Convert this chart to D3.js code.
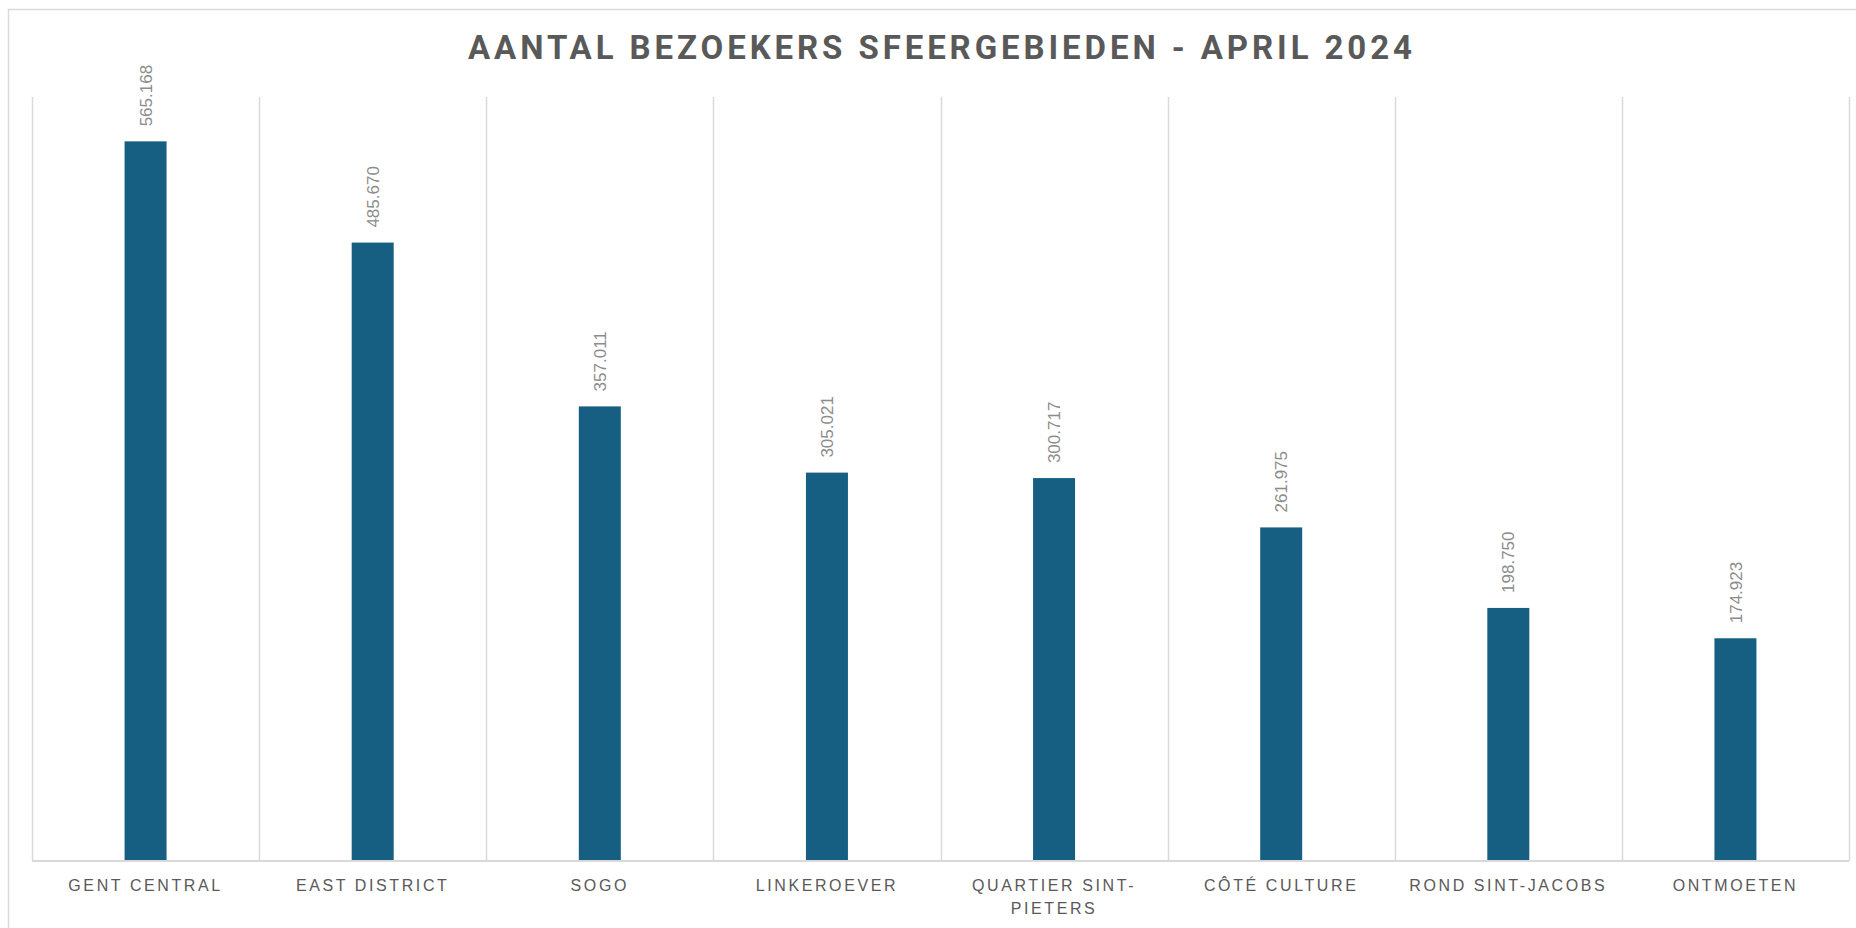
<!DOCTYPE html>
<html>
<head>
<meta charset="utf-8">
<script src="https://cdn.jsdelivr.net/npm/d3@7"></script>
<style>
  html, body { margin: 0; padding: 0; background: #fff; }
  svg { display: block; }
</style>
</head>
<body>
<div id="chart"></div>
<script>
// bezoekers per sfeergebied, april 2024
var categories = ["GENT CENTRAL", "EAST DISTRICT", "SOGO", "LINKEROEVER",
                  "QUARTIER SINT-PIETERS", "CÔTÉ CULTURE", "ROND SINT-JACOBS", "ONTMOETEN"];
var visitors = [565168, 485670, 357011, 305021, 300717, 261975, 198750, 174923];
var yMax = 600000;
var title = "AANTAL BEZOEKERS SFEERGEBIEDEN - APRIL 2024";

var W = 1856, H = 928;
var margin = {top: 97, right: 7, bottom: 67, left: 32},
    width = W - margin.left - margin.right,
    height = H - margin.top - margin.bottom;

var svg = d3.select("#chart")
  .append("svg")
    .attr("width", W)
    .attr("height", H);

// outer chart frame
svg.append("rect")
  .attr("x", 8.5).attr("y", 9.5)
  .attr("width", W).attr("height", H)
  .attr("fill", "none")
  .attr("stroke", "#d9d9d9")
  .attr("stroke-width", 1.5);

svg.append("text")
  .attr("x", 940)
  .attr("y", 59)
  .attr("text-anchor", "middle")
  .attr("textLength", 944)
  .attr("lengthAdjust", "spacing")
  .style("font-family", "Roboto, 'Liberation Sans', sans-serif")
  .style("font-weight", "700")
  .style("font-size", "33px")
  .style("fill", "#595959")
  .text(title);

var g = svg.append("g")
  .attr("transform", "translate(" + margin.left + "," + margin.top + ")");

var x = d3.scaleBand()
  .domain(categories)
  .range([0, width]);

var y = d3.scaleLinear()
  .domain([0, yMax])
  .range([height, 0]);

// vertical separators between categories
var seps = d3.range(categories.length + 1).map(function(i) { return i * x.step(); });
g.selectAll(".sep")
  .data(seps)
  .enter()
  .append("line")
    .attr("class", "sep")
    .attr("x1", function(d) { return Math.round(d) + 0.5; })
    .attr("x2", function(d) { return Math.round(d) + 0.5; })
    .attr("y1", 0)
    .attr("y2", height)
    .attr("stroke", "#d9d9d9")
    .attr("stroke-width", 1.5);

var barW = 42;
g.selectAll(".bar")
  .data(categories)
  .enter()
  .append("rect")
    .attr("class", "bar")
    .attr("x", function(d) { return x(d) + x.bandwidth() / 2 - barW / 2; })
    .attr("y", function(d, i) { return y(visitors[i]); })
    .attr("width", barW)
    .attr("height", function(d, i) { return height - y(visitors[i]); })
    .attr("fill", "#175f82");

// baseline
g.append("line")
  .attr("x1", 0).attr("x2", width)
  .attr("y1", height).attr("y2", height)
  .attr("stroke", "#d9d9d9")
  .attr("stroke-width", 2);

// value labels, rotated
var fmt = function(v) { return d3.format(",")(v).replace(/,/g, "."); };
g.selectAll(".val")
  .data(categories)
  .enter()
  .append("text")
    .attr("class", "val")
    .attr("transform", function(d, i) {
      return "translate(" + (x(d) + x.bandwidth() / 2) + "," + (y(visitors[i]) - 15) + ") rotate(-90)";
    })
    .attr("dy", "0.36em")
    .style("font-family", "'Liberation Sans', Arial, sans-serif")
    .style("font-size", "17px")
    .style("fill", "#8c8c8c")
    .text(function(d, i) { return fmt(visitors[i]); });

// category labels, wrapped on spaces/hyphens
var xAxis = g.append("g")
  .attr("transform", "translate(0," + height + ")");

xAxis.selectAll(".cat")
  .data(categories)
  .enter()
  .append("text")
    .attr("class", "cat")
    .attr("x", function(d) { return x(d) + x.bandwidth() / 2; })
    .attr("y", 30)
    .attr("text-anchor", "middle")
    .style("font-family", "'Liberation Sans', Arial, sans-serif")
    .style("font-size", "16px")
    .style("letter-spacing", "2.6px")
    .style("fill", "#595959")
    .each(function(d) {
      var el = d3.select(this);
      var parts = d.match(/[^ -]+[ -]?/g);
      var lines = [], cur = "";
      var t = el.append("tspan");
      parts.forEach(function(p) {
        t.text((cur + p).trim());
        if (cur && this.getComputedTextLength && t.node().getComputedTextLength() > x.bandwidth() - 10) {
          lines.push(cur.trim());
          cur = p;
        } else {
          cur = cur + p;
        }
      }, this);
      lines.push(cur.trim());
      t.remove();
      lines.forEach(function(l, i) {
        el.append("tspan")
          .attr("x", x(d) + x.bandwidth() / 2)
          .attr("dy", i === 0 ? 0 : 23)
          .text(l);
      });
    });
</script>
</body>
</html>
